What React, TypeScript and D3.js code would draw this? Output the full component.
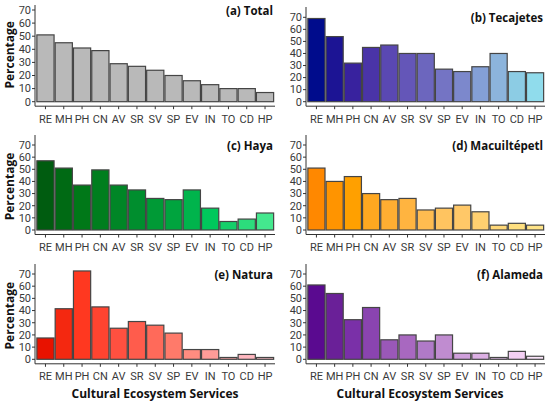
import React, {useEffect, useRef} from "react";
import * as d3 from "d3";

const categories = ["RE", "MH", "PH", "CN", "AV", "SR", "SV", "SP", "EV", "IN", "TO", "CD", "HP"];
const yTicks = [0, 10, 20, 30, 40, 50, 60, 70];

const total = [51, 45, 41, 39, 29, 27, 24, 20, 16, 13, 10, 10, 7];
const tecajetes = [69, 54, 32, 45, 47, 40, 40, 27, 25, 29, 40, 25, 24];
const haya = [57, 51, 37, 49.5, 37, 33, 26, 25, 33, 18, 7, 9, 14];
const macuiltepetl = [51, 40, 44, 30, 25, 26, 16.5, 18, 20.5, 15, 4, 5.5, 4];
const natura = [17.5, 41.5, 72.5, 43, 25.5, 31, 28, 21.5, 8, 8, 1.5, 4, 1.5];
const alameda = [61, 54, 32.5, 42.5, 16, 20, 15, 20, 5, 5, 1.5, 6.5, 2.5];

const titles = ["(a) Total", "(b) Tecajetes", "(c) Haya", "(d) Macuiltépetl", "(e) Natura", "(f) Alameda"];

const greys = Array(13).fill("#b9b9b9");
const blues = ["#000c8c", "#1c1494", "#38229e", "#4a34a8", "#5a48b2", "#6456b8", "#6c66be", "#7474c4", "#7c88cc", "#84a0d6", "#8cb4dc", "#8ccce4", "#90dcec"];
const greens = ["#005c10", "#006a14", "#007818", "#007e1e", "#008626", "#008e2e", "#009a36", "#00a43e", "#00b44c", "#00c85c", "#14d06a", "#2cdc7c", "#44e88e"];
const oranges = ["#ff8800", "#ff9400", "#ffa000", "#ffa820", "#ffae32", "#ffb440", "#ffbc50", "#ffc460", "#ffc868", "#ffd070", "#ffd878", "#ffe080", "#ffe488"];
const reds = ["#e81200", "#f42810", "#ff3820", "#ff4430", "#ff5040", "#ff5c4c", "#ff6a5a", "#ff7a6a", "#ff8c80", "#ff9c98", "#ffa8a8", "#ffb8c0", "#ffc0c8"];
const purples = ["#5a0a90", "#6a2098", "#7a30a8", "#8a44b0", "#9a58b8", "#a868c0", "#b07ac8", "#c08cd0", "#d0a0dc", "#dcb0e4", "#e4c0ec", "#f4d0f4", "#fce6fc"];

const FONT = "Roboto, 'Liberation Sans', Arial, sans-serif";
const BOLD_FONT = "'Open Sans', 'Liberation Sans', Arial, sans-serif";

export default function App() {
    const ref = useRef<SVGSVGElement>(null);

    useEffect(() => {
        document.body.style.margin = "0";
        const svg = d3.select(ref.current);
        svg.selectAll("*").remove();

        const series = [total, tecajetes, haya, macuiltepetl, natura, alameda];
        const palettes = [greys, blues, greens, oranges, reds, purples];
        // pixel rows: [y of 70, y of 0, top of axis line]
        const rows = [
            [[10, 101.7, 5], [17.3, 101.7, 7]],
            [[145, 230, 135], [145, 230, 135]],
            [[274, 359.3, 264], [274, 359.3, 264]],
        ];
        const cols = [[35, 275], [306, 545]];

        series.forEach((vals, i) => {
            const r = Math.floor(i / 2);
            const c = i % 2;
            const [y70, y0, yTop] = rows[r][c];
            const [x0, x1] = cols[c];
            const axisY = y0 + 4.5;

            const y = d3.scaleLinear().domain([0, 70]).range([y0, y70]);
            const x = d3.scaleBand<string>()
                .domain(categories)
                .range([x0 + 1.5, x1 - 1])
                .paddingInner(0.06)
                .paddingOuter(0.02);

            const g = svg.append("g");

            g.selectAll("rect")
                .data(vals)
                .enter()
                .append("rect")
                .attr("x", (_d, k) => x(categories[k])!)
                .attr("width", x.bandwidth())
                .attr("y", (d) => y(d))
                .attr("height", (d) => y0 - y(d))
                .attr("fill", (_d, k) => palettes[i][k])
                .attr("stroke", "#454545")
                .attr("stroke-width", 1.2);

            // y axis
            g.append("line")
                .attr("x1", x0).attr("x2", x0)
                .attr("y1", yTop).attr("y2", axisY)
                .attr("stroke", "#333").attr("stroke-width", 1);
            yTicks.forEach((t) => {
                g.append("line")
                    .attr("x1", x0 - 3).attr("x2", x0)
                    .attr("y1", y(t)).attr("y2", y(t))
                    .attr("stroke", "#333");
                g.append("text")
                    .attr("x", x0 - 4)
                    .attr("y", y(t))
                    .attr("dy", "0.35em")
                    .attr("text-anchor", "end")
                    .attr("font-family", FONT)
                    .attr("font-size", 11)
                    .attr("fill", "#3a3a3a")
                    .text(t);
            });

            // x axis
            g.append("line")
                .attr("x1", x0).attr("x2", x1)
                .attr("y1", axisY).attr("y2", axisY)
                .attr("stroke", "#333").attr("stroke-width", 1);
            categories.forEach((cat) => {
                const cx = x(cat)! + x.bandwidth() / 2;
                g.append("line")
                    .attr("x1", cx).attr("x2", cx)
                    .attr("y1", axisY).attr("y2", axisY + 3)
                    .attr("stroke", "#333");
                g.append("text")
                    .attr("x", cx)
                    .attr("y", axisY + 16.5)
                    .attr("text-anchor", "middle")
                    .attr("font-family", FONT)
                    .attr("font-size", 11)
                    .attr("fill", "#3a3a3a")
                    .text(cat);
            });

            // panel title
            g.append("text")
                .attr("x", x1 - 2)
                .attr("y", y70 + 4.5)
                .attr("text-anchor", "end")
                .attr("font-family", BOLD_FONT)
                .attr("font-weight", "bold")
                .attr("font-size", 11.5)
                .attr("fill", "#111")
                .text(titles[i]);

            if (c === 0) {
                const cy = (y70 + y0) / 2 - 1;
                g.append("text")
                    .attr("transform", `translate(14,${cy}) rotate(-90)`)
                    .attr("text-anchor", "middle")
                    .attr("font-family", BOLD_FONT)
                    .attr("font-weight", "bold")
                    .attr("font-size", 12)
                    .attr("fill", "#111")
                    .text("Percentage");
            }
            if (r === 2) {
                g.append("text")
                    .attr("x", c === 0 ? 155 : 420)
                    .attr("y", 398)
                    .attr("text-anchor", "middle")
                    .attr("font-family", BOLD_FONT)
                    .attr("font-weight", "bold")
                    .attr("font-size", 12)
                    .attr("fill", "#111")
                    .text("Cultural Ecosystem Services");
            }
        });
    }, []);

    return <svg ref={ref} width={550} height={403} style={{display: "block", background: "#fff"}}></svg>;
}
